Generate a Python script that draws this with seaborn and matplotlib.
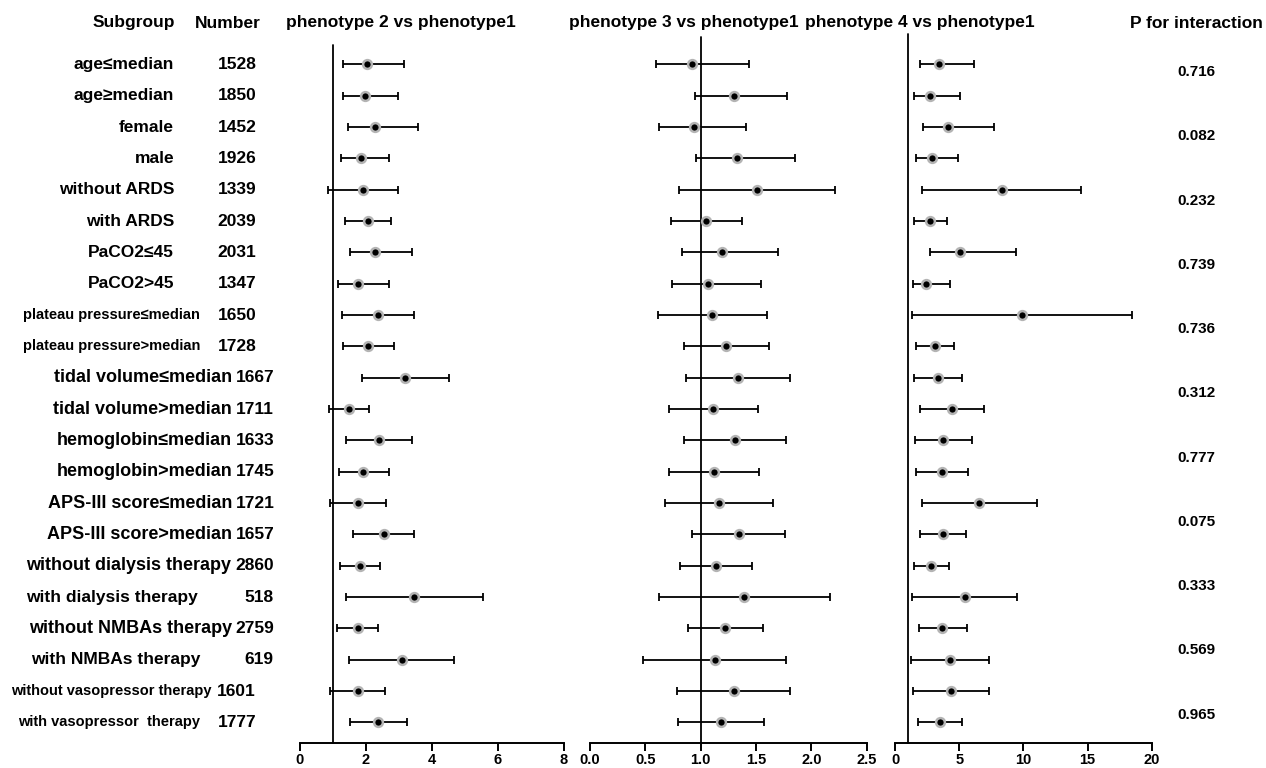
import numpy as np
import pandas as pd
import matplotlib
matplotlib.use("Agg")
import matplotlib.pyplot as plt
import matplotlib.transforms as mtransforms
import seaborn as sns

# subgroup table
subgroups = ["age≤median", "age≥median", "female", "male", "without ARDS", "with ARDS",
             "PaCO2≤45", "PaCO2>45", "plateau pressure≤median", "plateau pressure>median",
             "tidal volume≤median", "tidal volume>median", "hemoglobin≤median", "hemoglobin>median",
             "APS-III score≤median", "APS-III score>median", "without dialysis therapy",
             "with dialysis therapy", "without NMBAs therapy", "with NMBAs therapy",
             "without vasopressor therapy", "with vasopressor  therapy"]
numbers = [1528, 1850, 1452, 1926, 1339, 2039, 2031, 1347, 1650, 1728, 1667, 1711,
           1633, 1745, 1721, 1657, 2860, 518, 2759, 619, 1601, 1777]

p2_est = [2.04, 1.98, 2.28, 1.84, 1.90, 2.05, 2.27, 1.76, 2.35, 2.06, 3.17, 1.49,
          2.38, 1.92, 1.76, 2.55, 1.82, 3.46, 1.75, 3.08, 1.75, 2.37]
p2_lo = [1.31, 1.31, 1.44, 1.25, 0.84, 1.36, 1.52, 1.14, 1.27, 1.29, 1.87, 0.88,
         1.39, 1.17, 0.92, 1.62, 1.21, 1.38, 1.12, 1.49, 0.92, 1.52]
p2_hi = [3.15, 2.96, 3.59, 2.71, 2.97, 2.77, 3.39, 2.69, 3.45, 2.84, 4.50, 2.10,
         3.38, 2.69, 2.60, 3.46, 2.42, 5.54, 2.36, 4.68, 2.58, 3.24]

p3_est = [0.924, 1.298, 0.937, 1.33, 1.506, 1.051, 1.192, 1.066, 1.105, 1.231, 1.334, 1.114,
          1.31, 1.117, 1.162, 1.343, 1.138, 1.391, 1.222, 1.126, 1.298, 1.18]
p3_lo = [0.596, 0.951, 0.623, 0.958, 0.80, 0.735, 0.834, 0.738, 0.614, 0.846, 0.864, 0.714,
         0.852, 0.714, 0.675, 0.924, 0.816, 0.623, 0.882, 0.482, 0.789, 0.795]
p3_hi = [1.44, 1.78, 1.41, 1.85, 2.213, 1.37, 1.70, 1.545, 1.60, 1.62, 1.81, 1.52,
         1.77, 1.524, 1.653, 1.76, 1.463, 2.165, 1.566, 1.774, 1.81, 1.569]

p4_est = [3.45, 2.73, 4.11, 2.88, 8.34, 2.73, 5.04, 2.44, 9.92, 3.12, 3.38, 4.44,
          3.77, 3.66, 6.57, 3.71, 2.81, 5.43, 3.69, 4.29, 4.34, 3.51]
p4_lo = [1.95, 1.48, 2.18, 1.66, 2.10, 1.45, 2.73, 1.38, 1.35, 1.66, 1.45, 1.95,
         1.58, 1.64, 2.13, 1.95, 1.45, 1.35, 1.87, 1.25, 1.38, 1.77]
p4_hi = [6.18, 5.04, 7.72, 4.93, 14.52, 4.03, 9.46, 4.29, 18.47, 4.57, 5.22, 6.96,
         5.97, 5.69, 11.04, 5.51, 4.21, 9.48, 5.59, 7.35, 7.30, 5.22]

p_interaction = ["0.716", "0.082", "0.232", "0.739", "0.736", "0.312",
                 "0.777", "0.075", "0.333", "0.569", "0.965"]

panel_titles = ["phenotype 2 vs phenotype1", "phenotype 3 vs phenotype1", "phenotype 4 vs phenotype1"]
panel_xlim = [(0, 8), (0, 2.5), (0, 20)]
panel_ticks = [[0, 2, 4, 6, 8], [0.0, 0.5, 1.0, 1.5, 2.0, 2.5], [0, 5, 10, 15, 20]]
panel_ticklabels = [["0", "2", "4", "6", "8"],
                    ["0.0", "0.5", "1.0", "1.5", "2.0", "2.5"],
                    ["0", "5", "10", "15", "20"]]

sns.set_theme(style="white")
plt.rcParams['font.family'] = ['Liberation Sans', 'DejaVu Sans']
plt.rcParams['font.weight'] = 'bold'
plt.rcParams['text.color'] = 'black'
plt.rcParams['xtick.color'] = 'black'
plt.rcParams['xtick.labelcolor'] = 'black'

W, H = 1266, 768
fig = plt.figure(figsize=(W / 100, H / 100), dpi=100)

rows = np.arange(len(subgroups))
df = pd.DataFrame({"row": rows, "subgroup": subgroups, "n": numbers})
panels = [(p2_est, p2_lo, p2_hi), (p3_est, p3_lo, p3_hi), (p4_est, p4_lo, p4_hi)]

# axes pixel boxes (left, width) and how far the reference line pokes above the top
boxes = [(300, 264), (590, 276.7), (895, 256.7)]
vline_top = [1.0, 1.012, 1.016]
top_px, bot_px = 45, 742.7
ylim = (21.65, -0.62)

axes = []
for (left, width), (est, lo, hi), xl, tk, tl, vt in zip(boxes, panels, panel_xlim, panel_ticks,
                                                         panel_ticklabels, vline_top):
    ax = fig.add_axes([left / W, 1 - bot_px / H, width / W, (bot_px - top_px) / H])
    d = df.assign(est=est, lo=lo, hi=hi)
    ax.axvline(1, ymin=0, ymax=vt, color="black", lw=1.3, zorder=1, clip_on=False)
    ax.errorbar(d["est"], d["row"], xerr=[d["est"] - d["lo"], d["hi"] - d["est"]],
                fmt="none", ecolor="black", elinewidth=1.3, capsize=3, capthick=1.3, zorder=2)
    sns.scatterplot(data=d, x="est", y="row", ax=ax, color="black", s=40,
                    edgecolor="#b4b4b4", linewidth=1.8, zorder=3, legend=False)
    ax.set_xlim(*xl)
    ax.set_ylim(*ylim)
    ax.set_xticks(tk)
    ax.set_xticklabels(tl, fontsize=10.5, fontweight="bold")
    ax.set_yticks([])
    ax.set_xlabel("")
    ax.set_ylabel("")
    for s in ["top", "right", "left"]:
        ax.spines[s].set_visible(False)
    ax.spines["bottom"].set_color("black")
    ax.spines["bottom"].set_linewidth(1.4)
    ax.tick_params(axis="x", bottom=True, length=5.5, width=1.4, color="black", pad=2)
    ax.set_facecolor("none")
    axes.append(ax)

# row labels and numbers
trans = mtransforms.blended_transform_factory(fig.transFigure, axes[0].transData)
label_right = [174, 174, 174, 174, 174, 174, 174, 174, 200, 200, 232, 232,
               232, 232, 232, 232, 231, 198, 232, 200, 212, 200]
label_size = [12.5] * 8 + [10.5, 10.5] + [13] * 6 + [13, 12.5, 13, 12.5, 10.5, 10.5]
num_x = [237] * 10 + [255] * 6 + [255, 259, 255, 259, 236, 237]
for r, lab, n, xr, fs, xn in zip(rows, subgroups, numbers, label_right, label_size, num_x):
    fig.text(xr / W, r, lab, transform=trans, ha="right", va="center", fontsize=fs, fontweight="bold")
    fig.text(xn / W, r, str(n), transform=trans, ha="center", va="center", fontsize=12.5, fontweight="bold")

# p for interaction
for yp, p in zip(np.linspace(0.25, 20.75, len(p_interaction)), p_interaction):
    fig.text(1196 / W, yp, p, transform=trans, ha="center", va="center", fontsize=11, fontweight="bold")

# headers
hy = 1 - 23 / H
fig.text(134 / W, hy, "Subgroup", ha="center", va="center", fontsize=12.5, fontweight="bold")
fig.text(228 / W, hy, "Number", ha="center", va="center", fontsize=12.5, fontweight="bold")
for xc, t in zip([401, 684, 920], panel_titles):
    fig.text(xc / W, hy, t, ha="center", va="center", fontsize=12.5, fontweight="bold")
fig.text(1263 / W, hy, "P for interaction", ha="right", va="center", fontsize=12.5, fontweight="bold")

fig.savefig("out.png", dpi=100, facecolor="white")
plt.close(fig)
